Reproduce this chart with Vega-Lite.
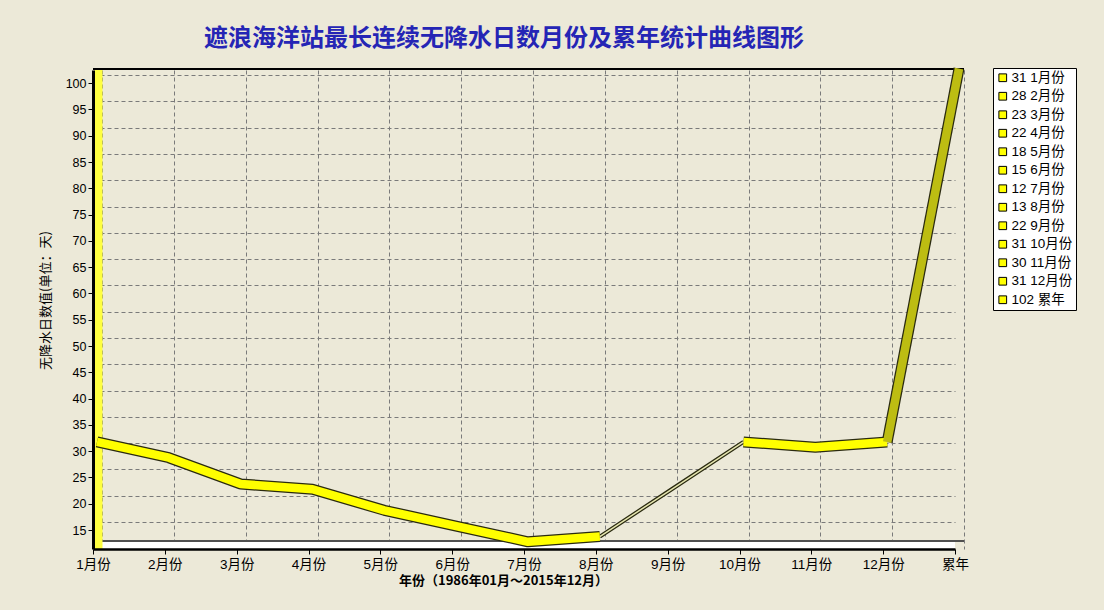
{
  "$schema": "https://vega.github.io/schema/vega-lite/v6.json",
  "width": 862,
  "height": 479,
  "autosize": {"type": "none"},
  "padding": {"left": 93, "top": 70, "right": 149, "bottom": 61},
  "background": "#ECE9D8",
  "config": {
    "view": {"stroke": null, "fill": "#ECE9D8"},
    "font": "Liberation Sans, Noto Sans CJK SC",
    "axis": {"labelColor": "#000000", "titleColor": "#000000"}
  },
  "title": {
    "text": "遮浪海洋站最长连续无降水日数月份及累年统计曲线图形",
    "font": "Noto Sans CJK SC",
    "fontSize": 24,
    "fontWeight": "bold",
    "color": "#2525B5",
    "anchor": "middle",
    "dx": -20,
    "offset": 12
  },
  "data": {
    "values": [
      {"month": "1月份", "days": 31, "label": "31 1月份"},
      {"month": "2月份", "days": 28, "label": "28 2月份"},
      {"month": "3月份", "days": 23, "label": "23 3月份"},
      {"month": "4月份", "days": 22, "label": "22 4月份"},
      {"month": "5月份", "days": 18, "label": "18 5月份"},
      {"month": "6月份", "days": 15, "label": "15 6月份"},
      {"month": "7月份", "days": 12, "label": "12 7月份"},
      {"month": "8月份", "days": 13, "label": "13 8月份"},
      {"month": "9月份", "days": 22, "label": "22 9月份"},
      {"month": "10月份", "days": 31, "label": "31 10月份"},
      {"month": "11月份", "days": 30, "label": "30 11月份"},
      {"month": "12月份", "days": 31, "label": "31 12月份"},
      {"month": "累年", "days": 102, "label": "102 累年"}
    ]
  },
  "resolve": {"axis": {"x": "independent", "y": "independent"}},
  "layer": [
    {
      "mark": {"type": "point", "opacity": 0},
      "encoding": {
        "x": {
          "field": "month", "type": "ordinal",
          "scale": {"type": "point", "padding": 0, "domain": ["1月份","2月份","3月份","4月份","5月份","6月份","7月份","8月份","9月份","10月份","11月份","12月份","累年"]},
          "axis": {"orient": "bottom", "grid": true, "gridDash": [4, 3], "gridColor": "#7a7a7a", "gridWidth": 1, "tickOffset": 9, "labels": false, "ticks": false, "domain": false, "title": null}
        },
        "y": {
          "field": "days", "type": "quantitative",
          "scale": {"domain": [11.4, 102.5], "nice": false, "zero": false},
          "axis": {"orient": "left", "grid": true, "values": [15,20,25,30,35,40,45,50,55,60,65,70,75,80,85,90,95,100], "tickCount": 20, "gridDash": [4, 3], "gridColor": "#7a7a7a", "gridWidth": 1, "tickOffset": -8, "labels": false, "ticks": false, "domain": false, "title": null}
        }
      }
    },
    {
      "layer": [
        {
          "mark": {"type": "rule", "stroke": "#FFFFFF", "strokeWidth": 7, "yOffset": -4},
          "encoding": {
            "y": {"datum": 11.4, "type": "quantitative",
              "axis": {"orient": "left", "values": [15,20,25,30,35,40,45,50,55,60,65,70,75,80,85,90,95,100], "tickCount": 20, "labelOverlap": false, "grid": false, "domainColor": "#000000", "domainWidth": 3, "tickColor": "#000000", "tickSize": 5, "labelFontSize": 12.5, "labelPadding": 2, "title": "无降水日数值(单位：天)", "titleFontSize": 13, "titleFontWeight": "normal", "titleFont": "Noto Sans CJK SC", "titlePadding": 13, "titleY": 230, "zindex": 1}}
          }
        },
        {
          "mark": {"type": "rule", "stroke": "#505050", "strokeWidth": 1.5, "yOffset": -8, "xOffset": 9},
          "encoding": {"y": {"datum": 11.4, "type": "quantitative"}}
        },
        {
          "mark": {"type": "rule", "stroke": "#000000", "strokeWidth": 1.5, "yOffset": -1, "xOffset": 9},
          "encoding": {"y": {"datum": 102.5, "type": "quantitative"}}
        },
        {
          "transform": [{"filter": "datum.month === '1月份'"}],
          "mark": {"type": "rule", "stroke": "#FFFF40", "strokeWidth": 8, "xOffset": 5.5},
          "encoding": {
            "x": {"field": "month", "type": "ordinal",
              "axis": {"orient": "bottom", "grid": false, "domainColor": "#000000", "domainWidth": 2.5, "tickColor": "#000000", "tickSize": 5, "labelFontSize": 13.5, "labelPadding": 3, "labelAngle": 0, "title": "年份（1986年01月～2015年12月）", "titleFontSize": 13, "titleFontWeight": "bold", "titleFont": "Noto Sans CJK SC", "titlePadding": 4, "titleX": 410, "zindex": 1}}
          }
        },
        {
          "transform": [{"filter": {"field": "month", "oneOf": ["1月份","2月份","3月份","4月份","5月份","6月份","7月份","8月份"]}}],
          "mark": {"type": "line", "stroke": "#2a2a10", "strokeWidth": 11, "xOffset": 4, "yOffset": -4, "strokeJoin": "bevel", "strokeCap": "butt"},
          "encoding": {"x": {"field": "month", "type": "ordinal"}, "y": {"field": "days", "type": "quantitative"}}
        },
        {
          "transform": [{"filter": {"field": "month", "oneOf": ["10月份","11月份","12月份"]}}],
          "mark": {"type": "line", "stroke": "#2a2a10", "strokeWidth": 11, "xOffset": 4, "yOffset": -4, "strokeJoin": "bevel", "strokeCap": "butt"},
          "encoding": {"x": {"field": "month", "type": "ordinal"}, "y": {"field": "days", "type": "quantitative"}}
        },
        {
          "transform": [{"filter": {"field": "month", "oneOf": ["12月份","累年"]}}],
          "mark": {"type": "line", "stroke": "#2a2a10", "strokeWidth": 11, "xOffset": 4, "yOffset": -4, "strokeJoin": "bevel", "strokeCap": "butt"},
          "encoding": {"x": {"field": "month", "type": "ordinal"}, "y": {"field": "days", "type": "quantitative"}}
        },
        {
          "transform": [{"filter": {"field": "month", "oneOf": ["8月份","9月份","10月份"]}}],
          "mark": {"type": "line", "stroke": "#2a2a10", "strokeWidth": 4, "xOffset": 4, "yOffset": -4, "strokeJoin": "bevel", "strokeCap": "butt"},
          "encoding": {"x": {"field": "month", "type": "ordinal"}, "y": {"field": "days", "type": "quantitative"}}
        },
        {
          "transform": [{"filter": {"field": "month", "oneOf": ["8月份","9月份","10月份"]}}],
          "mark": {"type": "line", "stroke": "#E6E6B0", "strokeWidth": 1.5, "xOffset": 4, "yOffset": -4, "strokeJoin": "bevel", "strokeCap": "butt"},
          "encoding": {"x": {"field": "month", "type": "ordinal"}, "y": {"field": "days", "type": "quantitative"}}
        },
        {
          "transform": [{"filter": {"field": "month", "oneOf": ["1月份","2月份","3月份","4月份","5月份","6月份","7月份","8月份"]}}],
          "mark": {"type": "line", "stroke": "#FFFF00", "strokeWidth": 8.5, "xOffset": 4, "yOffset": -4, "strokeJoin": "bevel", "strokeCap": "butt"},
          "encoding": {"x": {"field": "month", "type": "ordinal"}, "y": {"field": "days", "type": "quantitative"}}
        },
        {
          "transform": [{"filter": {"field": "month", "oneOf": ["10月份","11月份","12月份"]}}],
          "mark": {"type": "line", "stroke": "#FFFF00", "strokeWidth": 8.5, "xOffset": 4, "yOffset": -4, "strokeJoin": "bevel", "strokeCap": "butt"},
          "encoding": {"x": {"field": "month", "type": "ordinal"}, "y": {"field": "days", "type": "quantitative"}}
        },
        {
          "transform": [{"filter": {"field": "month", "oneOf": ["12月份","累年"]}}],
          "mark": {"type": "line", "stroke": "#BDBD12", "strokeWidth": 8.5, "xOffset": 4, "yOffset": -4, "strokeJoin": "bevel", "strokeCap": "butt"},
          "encoding": {"x": {"field": "month", "type": "ordinal"}, "y": {"field": "days", "type": "quantitative"}}
        },
        {
          "mark": {"type": "square", "opacity": 0, "filled": true},
          "encoding": {
            "x": {"field": "month", "type": "ordinal"},
            "y": {"field": "days", "type": "quantitative"},
            "color": {
              "field": "label", "type": "nominal", "sort": null,
              "scale": {"range": ["#FFFF00"]},
              "legend": {
                "orient": "none", "legendX": 900, "legendY": -2, "title": null,
                "fillColor": "#FFFFFF", "strokeColor": "#000000", "padding": 3,
                "symbolType": "square", "symbolSize": 60, "symbolOpacity": 1,
                "symbolStrokeColor": "#000000", "symbolStrokeWidth": 1, "symbolFillColor": "#FFFF00",
                "labelFontSize": 13.5, "labelColor": "#000000", "labelOffset": 2, "labelLimit": 200,
                "rowPadding": 3.5
              }
            }
          }
        }
      ]
    }
  ]
}
